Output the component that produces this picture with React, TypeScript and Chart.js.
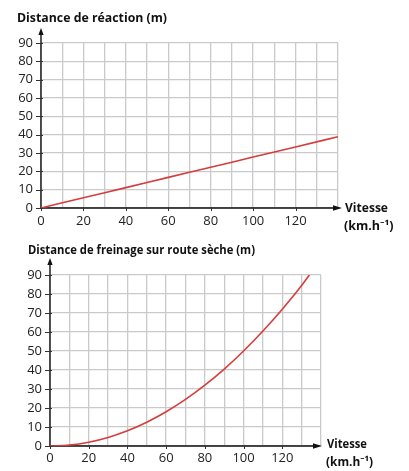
import { useEffect, useRef } from "react";
import { Chart, registerables } from "chart.js";
Chart.register(...registerables);

// Distance de réaction (m) vs vitesse (km/h)
const reactionSpeeds = [0, 20, 40, 60, 80, 100, 120, 140];
const reactionDistances = [0, 5.6, 11.1, 16.7, 22.2, 27.8, 33.3, 38.9];

// Distance de freinage sur route sèche (m) vs vitesse (km/h)
const brakingSpeeds = [0, 10, 20, 30, 40, 50, 60, 70, 80, 90, 100, 110, 120, 130, 134];
const brakingDistances = [0, 0.5, 2, 4.5, 8, 12.5, 18, 24.5, 32, 40.5, 50, 60.5, 72, 84.5, 90];

const xMin = 0;
const xMax = 140;
const xGridStep = 10;
const xLabelStep = 20;
const yMin = 0;
const yMax = 90;
const yStep = 10;

const topTitle = "Distance de réaction (m)";
const bottomTitle = "Distance de freinage sur route sèche (m)";
const xTitle = "Vitesse";
const xUnit = "(km.h⁻¹)";

const FONT = "'Open Sans', 'Noto Sans', sans-serif";

const axisDecor = {
  id: "axisDecor",
  beforeDatasetsDraw(chart: any, _a: any, o: any) {
    const { ctx, chartArea: a } = chart;
    ctx.save();
    ctx.strokeStyle = "#111";
    ctx.fillStyle = "#111";
    ctx.lineWidth = 1.4;
    ctx.beginPath();
    ctx.moveTo(a.left, a.bottom);
    ctx.lineTo(a.left, o.yTip + 5);
    ctx.stroke();
    ctx.beginPath();
    ctx.moveTo(a.left, o.yTip);
    ctx.lineTo(a.left - 2.6, o.yTip + 7);
    ctx.lineTo(a.left + 2.6, o.yTip + 7);
    ctx.closePath();
    ctx.fill();
    ctx.beginPath();
    ctx.moveTo(a.left, a.bottom);
    ctx.lineTo(o.xTip - 5, a.bottom);
    ctx.stroke();
    ctx.beginPath();
    ctx.moveTo(o.xTip, a.bottom);
    ctx.lineTo(o.xTip - 9, a.bottom - 2.8);
    ctx.lineTo(o.xTip - 9, a.bottom + 2.8);
    ctx.closePath();
    ctx.fill();
    // small tick marks crossing the axes
    const ys = chart.scales.y;
    ctx.lineWidth = 1;
    ctx.strokeStyle = "#333";
    for (const t of ys.ticks) {
      const py = Math.round(ys.getPixelForValue(t.value)) + 0.5;
      ctx.beginPath();
      ctx.moveTo(a.left - 5, py);
      ctx.lineTo(a.left + 2, py);
      ctx.stroke();
    }
    const xs = chart.scales.x;
    for (const t of xs.ticks) {
      if (t.value % xLabelStep !== 0 || t.value >= xMax) continue;
      const px = Math.round(xs.getPixelForValue(t.value)) + 0.5;
      ctx.beginPath();
      ctx.moveTo(px, a.bottom - 1);
      ctx.lineTo(px, a.bottom + 3);
      ctx.stroke();
    }
    ctx.restore();
  },
  afterDraw(chart: any, _a: any, o: any) {
    const { ctx } = chart;
    ctx.save();
    ctx.fillStyle = "#111";
    ctx.textBaseline = "middle";
    ctx.textAlign = "left";
    ctx.font = `bold 12.5px ${FONT}`;
    ctx.fillText(o.title, o.titleX, o.titleY, o.titleW);
    ctx.fillText(xTitle, o.xLabelX, o.xLabelY, o.xLabelW);
    ctx.fillText(xUnit, o.unitX, o.unitY, o.unitW);
    ctx.restore();
  },
};

function makeConfig(speeds: number[], dists: number[], geo: any): any {
  return {
    type: "line",
    data: {
      datasets: [
        {
          data: speeds.map((v, i) => ({ x: v, y: dists[i] })),
          borderColor: "#d63c3c",
          borderWidth: 1.6,
          pointRadius: 0,
          tension: 0.4,
          cubicInterpolationMode: "monotone",
          fill: false,
        },
      ],
    },
    plugins: [axisDecor],
    options: {
      animation: false,
      responsive: false,
      devicePixelRatio: 1,
      layout: { padding: { top: geo.padTop, right: geo.padRight, bottom: 0, left: 0 } },
      plugins: {
        legend: { display: false },
        tooltip: { enabled: false },
        axisDecor: geo.decor,
      },
      scales: {
        x: {
          type: "linear",
          min: xMin,
          max: xMax,
          border: { display: false },
          grid: { color: "#cacaca", lineWidth: 1.3, drawTicks: false },
          ticks: {
            stepSize: xGridStep,
            autoSkip: false,
            maxRotation: 0,
            padding: geo.xPad,
            color: "#222",
            font: { family: FONT, size: 13 },
            callback: (v: number) => (v % xLabelStep === 0 && v < xMax ? String(v) : ""),
          },
          afterFit: (s: any) => {
            s.height = geo.xHeight;
          },
        },
        y: {
          min: yMin,
          max: yMax,
          border: { display: false },
          grid: { color: "#cacaca", lineWidth: 1.3, drawTicks: false },
          ticks: {
            stepSize: yStep,
            autoSkip: false,
            padding: 8,
            color: "#222",
            font: { family: FONT, size: 13 },
          },
          afterFit: (s: any) => {
            s.width = geo.yWidth;
          },
        },
      },
    },
  };
}

export default function App() {
  const topRef = useRef<HTMLCanvasElement>(null);
  const botRef = useRef<HTMLCanvasElement>(null);
  useEffect(() => {
    const c1 = new Chart(
      topRef.current!,
      makeConfig(reactionSpeeds, reactionDistances, {
        padTop: 43,
        padRight: 71,
        xHeight: 27,
        yWidth: 41,
        xPad: 5,
        decor: {
          yTip: 28,
          xTip: 342,
          title: topTitle,
          titleX: 17,
          titleY: 18,
          titleW: 150,
          xLabelX: 345,
          xLabelY: 208,
          xLabelW: 43,
          unitX: 344,
          unitY: 226,
          unitW: 50,
        },
      })
    );
    const c2 = new Chart(
      botRef.current!,
      makeConfig(brakingSpeeds, brakingDistances, {
        padTop: 40,
        padRight: 88,
        xHeight: 25,
        yWidth: 50,
        xPad: 4,
        decor: {
          yTip: 23,
          xTip: 322,
          title: bottomTitle,
          titleX: 28,
          titleY: 15,
          titleW: 227,
          xLabelX: 327,
          xLabelY: 209,
          xLabelW: 40,
          unitX: 326,
          unitY: 227,
          unitW: 47,
        },
      })
    );
    return () => {
      c1.destroy();
      c2.destroy();
    };
  }, []);
  return (
    <div style={{ position: "absolute", left: 0, top: 0, width: 409, height: 471, background: "#fff" }}>
      <canvas ref={topRef} width={409} height={235} style={{ position: "absolute", left: 0, top: 0 }} />
      <canvas ref={botRef} width={409} height={236} style={{ position: "absolute", left: 0, top: 235 }} />
    </div>
  );
}
